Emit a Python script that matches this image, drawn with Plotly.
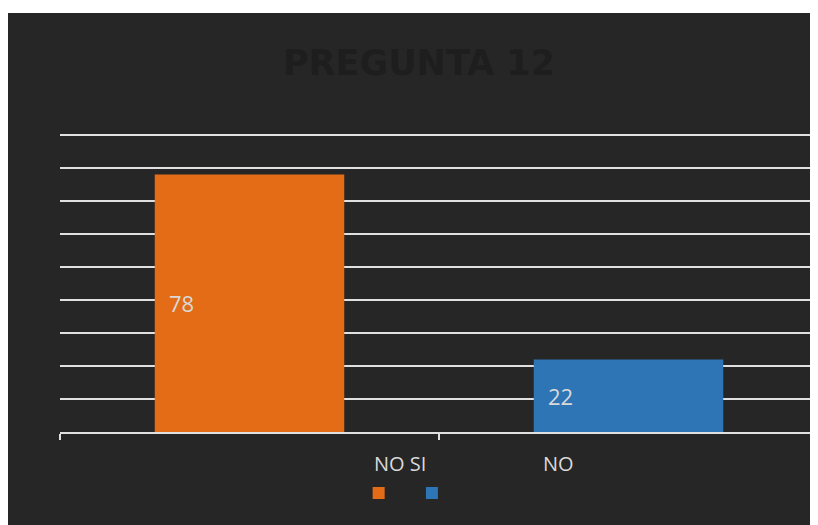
import plotly.graph_objects as go

# datos de la pregunta 12
categorias = ["SI", "NO"]
valores = [78, 22]
colores = ["#E46C17", "#2E75B6"]
etiquetas_eje = ["NO SI", "NO"]
titulo = "PREGUNTA 12"

fondo = "#262626"
texto = "#D9D9D9"

fig = go.Figure()
for i, (cat, val, col) in enumerate(zip(categorias, valores, colores)):
    fig.add_trace(go.Bar(
        x=[i], y=[val], name=cat, width=0.5,
        marker=dict(color=col, line=dict(width=0)),
        hoverinfo="y",
    ))
    # etiqueta de valor a la izquierda dentro de la barra
    fig.add_annotation(
        x=i - 0.25, y=val / 2, text=str(val), showarrow=False,
        xanchor="left", yanchor="middle", xshift=12,
        font=dict(family="Open Sans", size=22, color=texto),
    )

# textos bajo el eje (como en la imagen original)
for txt, xpos in zip(etiquetas_eje, [0.448, 0.658]):
    fig.add_annotation(
        x=xpos, y=-0.105, xref="paper", yref="paper", text=txt,
        showarrow=False, xanchor="center", yanchor="middle",
        font=dict(family="Open Sans", size=20, color=texto),
    )

# fondo oscuro del gráfico
fig.add_shape(
    type="rect", xref="paper", yref="paper", layer="below",
    x0=-0.2, x1=1.1, y0=-0.4, y1=1.397,
    fillcolor=fondo, line=dict(width=0),
)

fig.update_layout(
    width=810, height=517,
    paper_bgcolor="white", plot_bgcolor=fondo,
    margin=dict(l=52, r=0, t=124, b=93),
    barmode="overlay",
    title=dict(
        text="<b>" + titulo + "</b>", x=0.5074, xanchor="center",
        y=0.8946, yanchor="middle",
        font=dict(family="DejaVu Sans", size=35, color="#1E1E1E"),
    ),
    showlegend=True,
    legend=dict(
        orientation="h", x=0.394, xanchor="left", y=-0.203, yanchor="middle",
        font=dict(family="Open Sans", size=10, color=fondo),
        bgcolor="rgba(0,0,0,0)", itemwidth=30,
    ),
    xaxis=dict(
        range=[-0.5, 1.5], tickvals=[-0.5, 0.5, 1.5], ticktext=["", "", ""],
        showgrid=False, zeroline=False,
        showline=True, linecolor="#E0E0E0", linewidth=2,
        ticks="outside", ticklen=6, tickcolor="#E0E0E0", tickwidth=2,
    ),
    yaxis=dict(
        range=[0, 90.9], tickvals=list(range(10, 91, 10)),
        showticklabels=False,
        showgrid=True, gridcolor="#E0E0E0", gridwidth=2,
        zeroline=False, showline=False,
    ),
)

fig.write_html("out.html")
